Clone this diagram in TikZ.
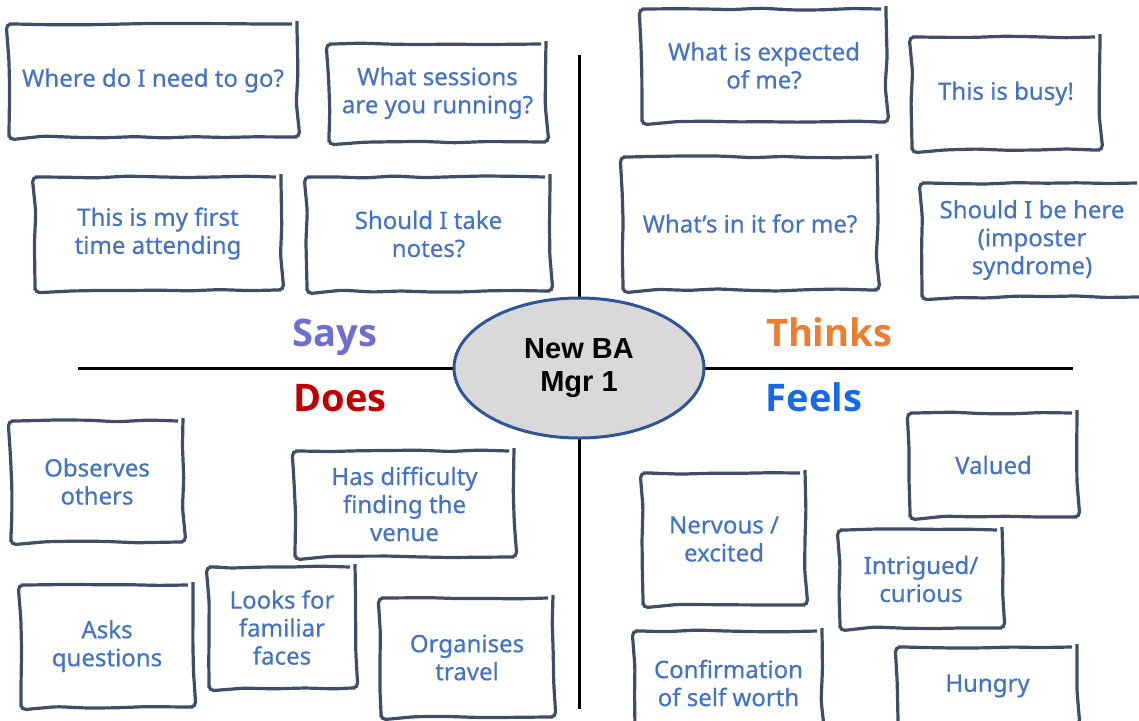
\documentclass[tikz,border=0pt]{standalone}
\usepackage{fontspec}
\setmainfont{Noto Sans}
\newfontfamily\notefont{Noto Sans}[FakeBold=0.5]
\newfontfamily\arialfont{Liberation Sans}
\newfontfamily\headfont{Open Sans}
\usetikzlibrary{shapes.geometric,decorations.pathmorphing}

\definecolor{boxline}{HTML}{3F4E66}
\definecolor{notetext}{HTML}{4472C4}
\definecolor{saysclr}{HTML}{6E6ED2}
\definecolor{thinksclr}{HTML}{ED7D31}
\definecolor{doesclr}{HTML}{C00000}
\definecolor{feelsclr}{HTML}{1769E8}
\definecolor{personaline}{HTML}{2F5597}

\tikzset{
  notebox/.style={draw=boxline, line width=3.2pt, text=notetext, align=center,
    font=\notefont\fontsize{24}{28}\selectfont, inner sep=0pt,
    decorate, decoration={random steps, segment length=30pt, amplitude=1.1pt},
    rounded corners=5pt},
  quadlabel/.style={font=\headfont\bfseries\fontsize{38}{46}\selectfont, anchor=base},
}

\begin{document}
\begin{tikzpicture}[x=1pt,y=-1pt]
    \pgfmathsetseed{11}
    \useasboundingbox (0,0) rectangle (1139,720);
    \coordinate (Centre)   at (579,368);
    \coordinate (XAxisMin) at (78,368);
    \coordinate (XAxisMax) at (1073,368);
    \coordinate (YAxisMin) at (579,55);
    \coordinate (YAxisMax) at (579,709);
    \draw [line width=3pt] (XAxisMin) -- (XAxisMax);% horizontal axis
    \draw [line width=3pt] (YAxisMin) -- (YAxisMax);% vertical axis
    \node[ellipse, draw=personaline, line width=3pt, fill=black!15,
          minimum width=250pt, minimum height=140pt, align=center,
          font=\arialfont\bfseries\fontsize{29}{33}\selectfont] (Persona) at (Centre) {New BA\\Mgr 1};
    % quadrant titles
    \node[quadlabel, text=saysclr]   (SaysLabel)   at (335,346) {Says};
    \node[quadlabel, text=thinksclr] (ThinksLabel) at (829,346) {Thinks};
    \node[quadlabel, text=doesclr]   (DoesLabel)   at (340,411) {Does};
    \node[quadlabel, text=feelsclr]  (FeelsLabel)  at (814,411) {Feels};
    % says
    \node[notebox, minimum width=288pt, minimum height=113pt] (WhereGo)   at (153,80.5) {Where do I need to go?};
    \node[notebox, minimum width=217pt, minimum height=98pt]  (Sessions)  at (437.5,93) {What sessions\\are you running?};
    \node[notebox, minimum width=246pt, minimum height=113pt] (FirstTime) at (158,233.5) {This is my first\\time attending};
    \node[notebox, minimum width=243pt, minimum height=114pt] (TakeNotes) at (428.5,234) {Should I take\\notes?};
    % thinks
    \node[notebox, minimum width=244pt, minimum height=113pt] (Expected)  at (764,65.5) {What is expected\\of me?};
    \node[notebox, minimum width=188pt, minimum height=113pt] (Busy)      at (1006,93.5) {This is busy!};
    \node[notebox, minimum width=254pt, minimum height=133pt] (InItForMe) at (750,223.5) {What’s in it for me?};
    \node[notebox, minimum width=220pt, minimum height=114pt] (BeHere)    at (1032,240) {Should I be here\\(imposter\\syndrome)};
    % does
    \node[notebox, minimum width=172pt, minimum height=121pt] (Observes)   at (97,481.5) {Observes\\others};
    \node[notebox, minimum width=219pt, minimum height=106pt] (Difficulty) at (404.5,504) {Has difficulty\\finding the\\venue};
    \node[notebox, minimum width=172pt, minimum height=122pt] (Asks)       at (107,646) {Asks\\questions};
    \node[notebox, minimum width=146pt, minimum height=121pt] (Faces)      at (282,627.5) {Looks for\\familiar\\faces};
    \node[notebox, minimum width=172pt, minimum height=119pt] (Travel)     at (467,657.5) {Organises\\travel};
    % feels
    \node[notebox, minimum width=167pt, minimum height=104pt] (Valued)    at (993.5,465) {Valued};
    \node[notebox, minimum width=162pt, minimum height=132pt] (Nervous)   at (724,539) {Nervous /\\excited};
    \node[notebox, minimum width=162pt, minimum height=98pt]  (Intrigued) at (921,579) {Intrigued/\\curious};
    \node[notebox, minimum width=187pt, minimum height=104pt] (SelfWorth) at (728.5,683) {Confirmation\\of self worth};
    \node[notebox, minimum width=179pt, minimum height=78pt]  (Hungry)    at (987.5,686) {Hungry};
\end{tikzpicture}
\end{document}
